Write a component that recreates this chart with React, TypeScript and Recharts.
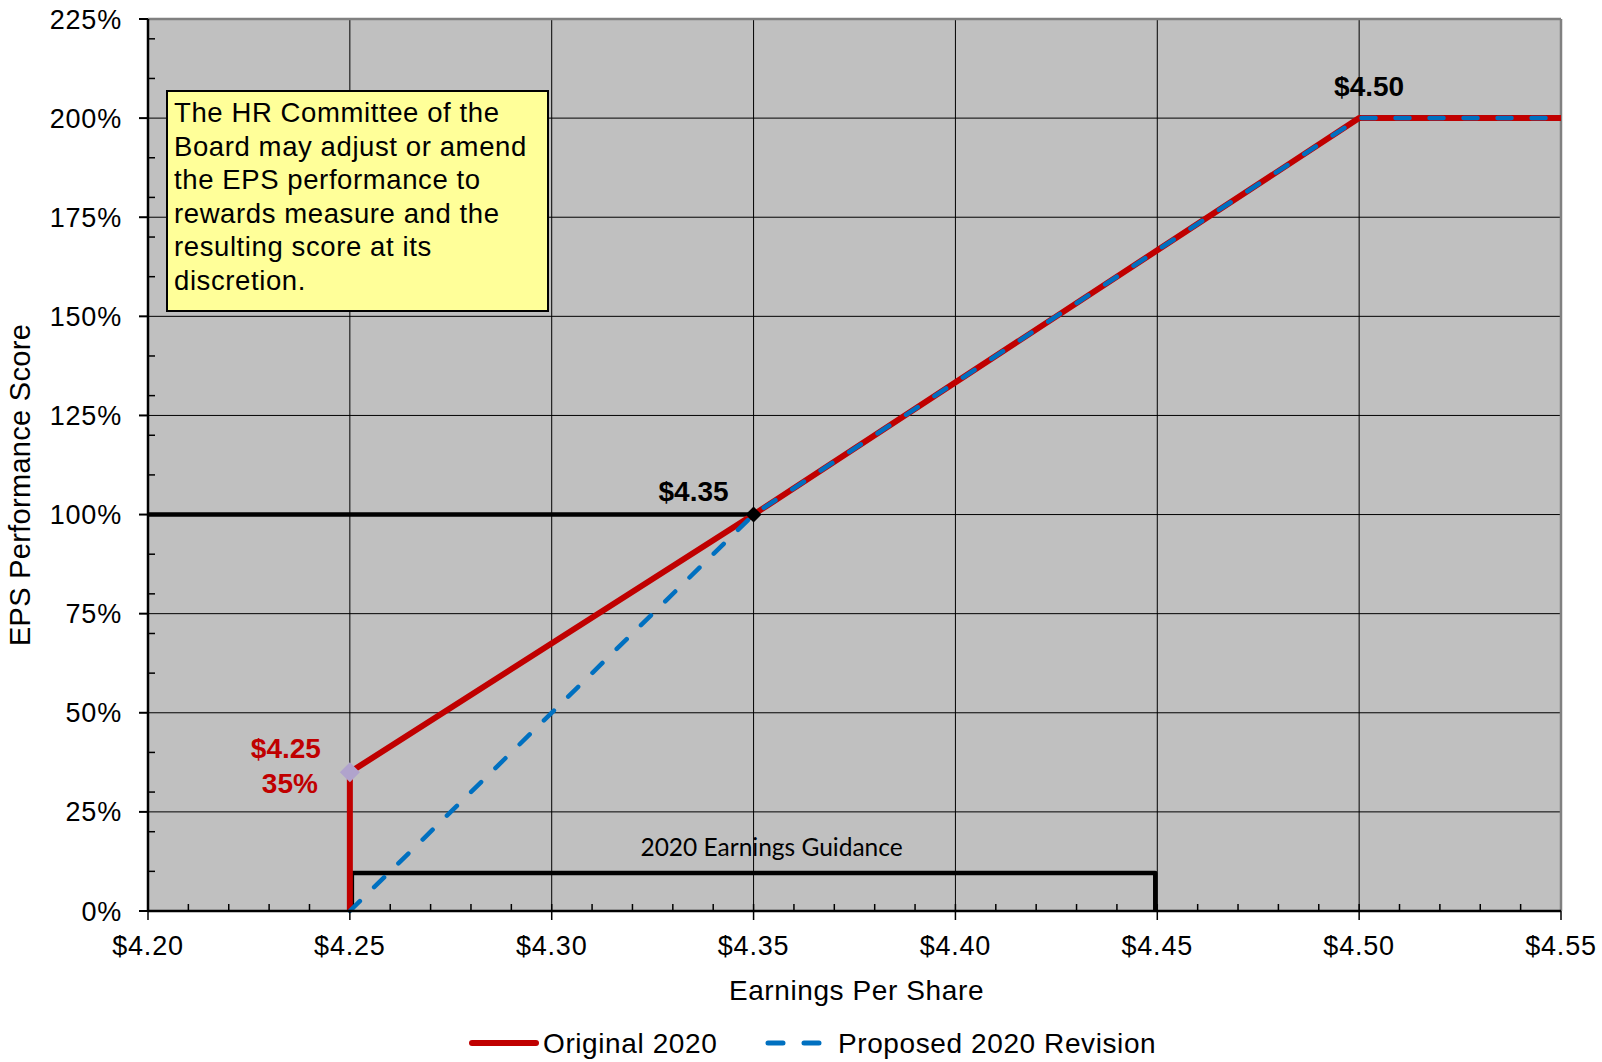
import React from 'react';
import {
  ComposedChart,
  Line,
  XAxis,
  YAxis,
  CartesianGrid,
  ReferenceLine,
  ReferenceDot,
  Legend,
} from 'recharts';

const FONT = '"Liberation Sans", Arial, Helvetica, sans-serif';
const RED = '#c00000';
const BLUE = '#0070c0';

// EPS ($) against EPS performance score (%)
const originalEps = [4.25, 4.25, 4.35, 4.5, 4.55];
const originalScore = [0, 35, 100, 200, 200];

const revisedEps = [4.25, 4.35, 4.5, 4.55];
const revisedScore = [0, 100, 200, 200];

const targetEps = [4.2, 4.35];
const targetScore = [100, 100];

const guidanceEps = [4.2505, 4.2505, 4.4495, 4.4495];
const guidanceScore = [0, 9.6, 9.6, 0];
const guidanceText = '2020 Earnings Guidance';

const calloutEps = [4.25, 4.35, 4.5];
const calloutScore = [35, 100, 200];
const calloutText = [['$4.25', '35%'], ['$4.35'], ['$4.50']];

const epsTicks = [4.2, 4.25, 4.3, 4.35, 4.4, 4.45, 4.5, 4.55];
const scoreTicks = [0, 25, 50, 75, 100, 125, 150, 175, 200, 225];
const epsMinorTicks = Array.from({ length: 34 }, (_, i) => Math.round(421 + i) / 100);
const scoreMinorTicks = [10, 20, 30, 40, 60, 70, 80, 90, 110, 120, 130, 140, 160, 170, 180, 190, 210, 220];

const noteLines = [
  'The HR Committee of the',
  'Board may adjust or amend',
  'the EPS performance to',
  'rewards measure and the',
  'resulting score at its',
  'discretion.',
];

const legendItems = [
  { name: 'Original 2020', color: RED, dash: undefined as string | undefined, width: 6 },
  { name: 'Proposed 2020 Revision', color: BLUE, dash: '15 21', width: 5 },
];

const toPoints = (xs: number[], ys: number[]) => xs.map((eps, i) => ({ eps, score: ys[i] }));

const originalData = toPoints(originalEps, originalScore);
const revisedData = toPoints(revisedEps, revisedScore);
const targetData = toPoints(targetEps, targetScore);
const guidanceData = toPoints(guidanceEps, guidanceScore);

// look of each callout (marker colour, text offset from the point)
const calloutStyle = [
  { color: RED, marker: '#b0a3cc', size: 10, dx: [-64, -60], dy: [-24, 11] },
  { color: '#000', marker: '#000', size: 8, dx: [-60], dy: [-24] },
  { color: '#000', marker: '', size: 0, dx: [10], dy: [-32] },
];

const tickFont = { fill: '#000', fontSize: 27, fontFamily: FONT, letterSpacing: 0.8 };

const minorX = (p: any) => {
  const yb = Math.max(p.y1, p.y2);
  return <line x1={p.x1} x2={p.x1} y1={yb} y2={yb - 7} stroke="#000" strokeWidth={1.5} />;
};

const minorY = (p: any) => {
  const xl = Math.min(p.x1, p.x2);
  return <line x1={xl} x2={xl + 7} y1={p.y1} y2={p.y1} stroke="#000" strokeWidth={1.5} />;
};

const renderCallout = (idx: number) => (p: any) => {
  const st = calloutStyle[idx];
  const { cx, cy } = p;
  const s = st.size;
  return (
    <g>
      {st.marker && (
        <path d={`M${cx},${cy - s}L${cx + s},${cy}L${cx},${cy + s}L${cx - s},${cy}Z`} fill={st.marker} />
      )}
      {calloutText[idx].map((t, j) => (
        <text
          key={t}
          x={cx + st.dx[j]}
          y={cy + st.dy[j] + 10}
          textAnchor="middle"
          fontSize={28}
          fontWeight="bold"
          fontFamily={FONT}
          fill={st.color}
        >
          {t}
        </text>
      ))}
    </g>
  );
};

const renderGuidanceLabel = (p: any) => (
  <text
    x={p.cx + 18}
    y={p.cy - 17}
    textAnchor="middle"
    fontSize={24.5}
    fontFamily="Lato, 'Noto Sans', sans-serif"
    fill="#000"
  >
    {guidanceText}
  </text>
);

const YTitle = (props: any) => {
  const vb = props.viewBox || { x: 0, y: 19, width: 148, height: 892 };
  const cx = vb.x + 30;
  const cy = vb.y + vb.height / 2 + 20;
  return (
    <text x={cx} y={cy} transform={`rotate(-90, ${cx}, ${cy})`} textAnchor="middle" fontSize={29} fontFamily={FONT} fill="#000" letterSpacing={0.3}>
      EPS Performance Score
    </text>
  );
};

const XTitle = (props: any) => {
  const vb = props.viewBox || { x: 148, y: 911, width: 1413, height: 106 };
  return (
    <text x={vb.x + vb.width / 2 + 2} y={vb.y + 89} textAnchor="middle" fontSize={28} fontFamily={FONT} fill="#000" letterSpacing={0.6}>
      Earnings Per Share
    </text>
  );
};

const LegendContent = () => {
  const starts = [472, 768];
  const textX = [543, 838];
  return (
    <svg width={1602} height={45} style={{ display: 'block' }}>
      {legendItems.map((item, i) => (
        <g key={item.name}>
          <line
            x1={starts[i]}
            x2={i === 0 ? 536 : 819.5}
            y1={26}
            y2={26}
            stroke={item.color}
            strokeWidth={item.width}
            strokeLinecap="round"
            strokeDasharray={item.dash}
          />
          <text x={textX[i]} y={36} fontSize={28} fontFamily={FONT} fill="#000" letterSpacing={0.6}>
            {item.name}
          </text>
        </g>
      ))}
    </svg>
  );
};

export default function App() {
  const guidanceMid = (guidanceEps[0] + guidanceEps[guidanceEps.length - 1]) / 2;
  const guidanceTop = Math.max(...guidanceScore);
  return (
    <div style={{ position: 'absolute', left: 0, top: 0, width: 1602, height: 1062, background: '#fff' }}>
      <ComposedChart width={1602} height={1062} margin={{ top: 19, right: 41, bottom: 0, left: 0 }}>
        <CartesianGrid stroke="#000" strokeWidth={1} fill="#c0c0c0" fillOpacity={1} />
        <XAxis
          dataKey="eps"
          type="number"
          domain={[4.2, 4.55]}
          ticks={epsTicks}
          interval={0}
          tickFormatter={(v: number) => `$${v.toFixed(2)}`}
          height={106}
          tickSize={9}
          tickMargin={16}
          tick={tickFont}
          axisLine={{ stroke: '#000', strokeWidth: 2.5 }}
          tickLine={{ stroke: '#000', strokeWidth: 1.5 }}
          label={(p: any) => <XTitle {...p} />}
        />
        <YAxis
          type="number"
          domain={[0, 225]}
          ticks={scoreTicks}
          interval={0}
          tickFormatter={(v: number) => `${v}%`}
          width={148}
          tickSize={9}
          tickMargin={17}
          tick={tickFont}
          axisLine={{ stroke: '#000', strokeWidth: 2.5 }}
          tickLine={{ stroke: '#000', strokeWidth: 2 }}
          label={(p: any) => <YTitle {...p} />}
        />
        <ReferenceLine y={225} stroke="#808080" strokeWidth={2.5} />
        <ReferenceLine x={4.55} stroke="#808080" strokeWidth={2.5} />
        {epsMinorTicks.map((v) => (
          <ReferenceLine key={`mx${v}`} x={v} stroke="#000" shape={minorX} />
        ))}
        {scoreMinorTicks.map((v) => (
          <ReferenceLine key={`my${v}`} y={v} stroke="#000" shape={minorY} />
        ))}
        <Line
          data={guidanceData}
          dataKey="score"
          stroke="#000"
          strokeWidth={4.5}
          strokeLinejoin="round"
          dot={false}
          activeDot={false}
          legendType="none"
          isAnimationActive={false}
        />
        <Line
          data={targetData}
          dataKey="score"
          stroke="#000"
          strokeWidth={4.5}
          dot={false}
          activeDot={false}
          legendType="none"
          isAnimationActive={false}
        />
        <Line
          name="Original 2020"
          data={originalData}
          dataKey="score"
          stroke={RED}
          strokeWidth={6}
          strokeLinejoin="round"
          dot={false}
          activeDot={false}
          isAnimationActive={false}
        />
        <Line
          name="Proposed 2020 Revision"
          data={revisedData}
          dataKey="score"
          stroke={BLUE}
          strokeWidth={4.5}
          strokeDasharray="14 20"
          strokeLinecap="round"
          strokeLinejoin="round"
          dot={false}
          activeDot={false}
          isAnimationActive={false}
        />
        <ReferenceDot x={guidanceMid} y={guidanceTop} r={1} shape={renderGuidanceLabel} />
        {calloutEps.map((x, i) => (
          <ReferenceDot key={`c${i}`} x={x} y={calloutScore[i]} r={1} shape={renderCallout(i)} />
        ))}
        <Legend
          verticalAlign="bottom"
          content={() => <LegendContent />}
          wrapperStyle={{ left: 0, bottom: 0, width: 1602, height: 45 }}
        />
      </ComposedChart>
      <div
        style={{
          position: 'absolute',
          left: 166,
          top: 90,
          width: 383,
          height: 222,
          boxSizing: 'border-box',
          border: '2px solid #000',
          background: '#ffff99',
          padding: '4px 0 0 6px',
          fontFamily: FONT,
          fontSize: 27.5,
          lineHeight: '33.6px',
          letterSpacing: 0.6,
          whiteSpace: 'nowrap',
          color: '#000',
        }}
      >
        {noteLines.map((l) => (
          <div key={l}>{l}</div>
        ))}
      </div>
    </div>
  );
}
